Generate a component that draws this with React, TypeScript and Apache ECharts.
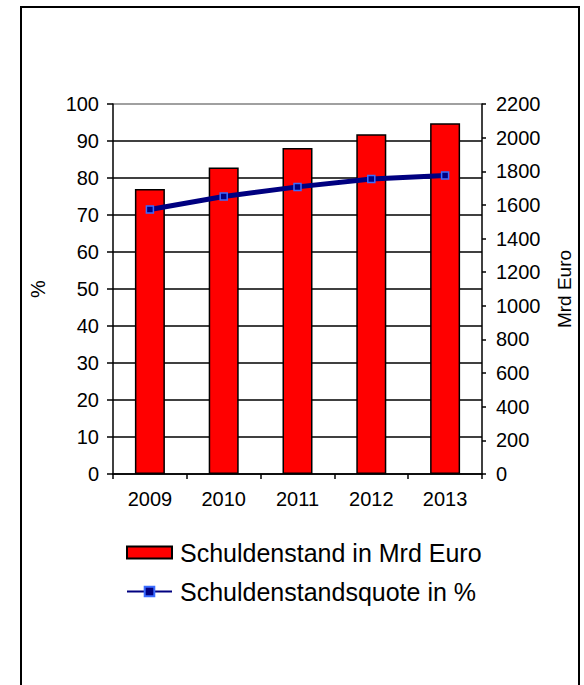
import React, { useEffect, useRef } from "react";
import * as echarts from "echarts";

const years = ["2009", "2010", "2011", "2012", "2013"];
const schuldenstandMrdEuro = [1694, 1822, 1938, 2020, 2086];
const schuldenstandsquoteProzent = [71.5, 75.0, 77.6, 79.7, 80.7];
const barName = "Schuldenstand in Mrd Euro";
const lineName = "Schuldenstandsquote in %";

const FONT = "Arial, 'Liberation Sans', sans-serif";

export default function App() {
  const ref = useRef<HTMLDivElement>(null);
  useEffect(() => {
    if (!ref.current) return;
    const chart = echarts.init(ref.current, undefined, { renderer: "svg" });
    const gridColors = ["#000", "#000", "#000", "#000", "#000", "#000", "#000", "#000", "#000", "#000", "#808080"];
    chart.setOption({
      animation: false,
      backgroundColor: "#fff",
      textStyle: { fontFamily: FONT, color: "#000" },
      graphic: [
        {
          type: "rect",
          shape: { x: 21, y: 7, width: 558, height: 720 },
          style: { fill: "none", stroke: "#000", lineWidth: 2 },
          silent: true,
        },
      ],
      grid: { left: 113, right: 102, top: 104, bottom: 211, containLabel: false },
      legend: {
        orient: "vertical",
        left: 126,
        top: 540,
        padding: 0,
        itemWidth: 45,
        itemHeight: 12,
        itemGap: 14,
        textStyle: { fontSize: 25, color: "#000", fontFamily: FONT, padding: [0, 0, 0, 3] },
        data: [{ name: barName, icon: "rect" }, { name: lineName }],
      },
      xAxis: {
        type: "category",
        data: years,
        axisLine: { lineStyle: { color: "#000", width: 1.5 } },
        axisTick: { show: true, length: 5, lineStyle: { color: "#000", width: 1.5 } },
        axisLabel: { fontSize: 20, color: "#000", margin: 15, fontFamily: FONT },
        splitLine: { show: false },
      },
      yAxis: [
        {
          type: "value",
          min: 0,
          max: 100,
          interval: 10,
          position: "left",
          name: "%",
          nameLocation: "middle",
          nameGap: 65,
          nameTextStyle: { fontSize: 20, color: "#000", fontFamily: FONT },
          axisLine: { show: true, lineStyle: { color: "#000", width: 1.5 } },
          axisTick: { show: true, length: 6, lineStyle: { color: "#000", width: 1.5 } },
          axisLabel: { fontSize: 20, color: "#000", margin: 14, fontFamily: FONT },
          splitLine: { show: true, lineStyle: { color: gridColors, width: 1.5 } },
        },
        {
          type: "value",
          min: 0,
          max: 2200,
          interval: 200,
          position: "right",
          name: "Mrd Euro",
          nameLocation: "middle",
          nameGap: 73,
          nameTextStyle: { fontSize: 19, color: "#000", fontFamily: FONT },
          axisLine: { show: true, lineStyle: { color: "#000", width: 1.5 } },
          axisTick: { show: true, length: 4, lineStyle: { color: "#000", width: 1.5 } },
          axisLabel: {
            fontSize: 20,
            color: "#000",
            margin: 14,
            fontFamily: FONT,
            formatter: (v: number) => String(v),
          },
          splitLine: { show: false },
        },
      ],
      series: [
        {
          name: barName,
          type: "bar",
          yAxisIndex: 1,
          data: schuldenstandMrdEuro,
          barWidth: 30,
          itemStyle: { color: "#ff0000", borderColor: "#000", borderWidth: 1.5 },
          z: 2,
        },
        {
          name: lineName,
          type: "line",
          yAxisIndex: 0,
          data: schuldenstandsquoteProzent,
          lineStyle: { color: "#000080", width: 5 },
          symbol: "rect",
          symbolSize: 7,
          showAllSymbol: true,
          itemStyle: { color: "#000080", borderColor: "#3a6bff", borderWidth: 1.5 },
          z: 3,
        },
      ],
    });
    return () => chart.dispose();
  }, []);
  return <div ref={ref} style={{ width: 584, height: 685, position: "absolute", left: 0, top: 0 }} />;
}
